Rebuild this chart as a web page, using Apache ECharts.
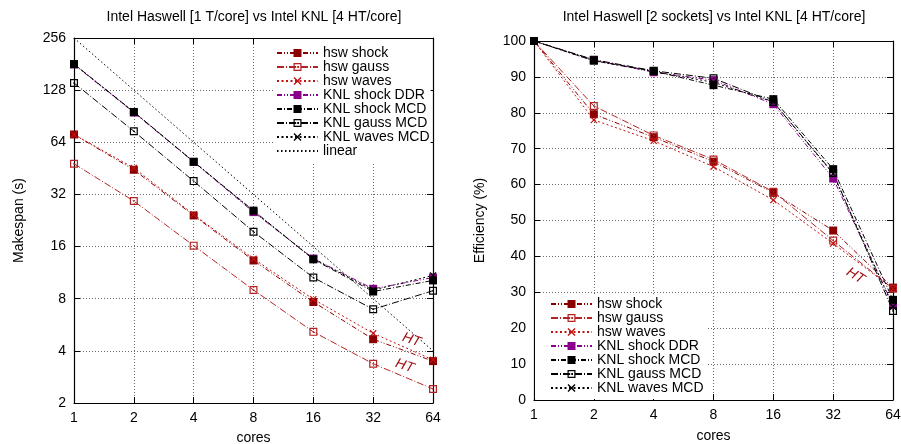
<!DOCTYPE html>
<html><head><meta charset="utf-8">
<script src="https://cdn.jsdelivr.net/npm/echarts@6/dist/echarts.min.js"></script>
<style>html,body{margin:0;padding:0;background:#fff}#c{width:901px;height:444px}</style>
</head><body><div id="c"></div>
<script>
// ---------- data ----------
const cores = [1, 2, 4, 8, 16, 32, 64];
const xTickLabels = ['1', '2', '4', '8', '16', '32', '64'];
const makespanTickLabels = ['2', '4', '8', '16', '32', '64', '128', '256'];
const seriesNames = ['hsw shock', 'hsw gauss', 'hsw waves', 'KNL shock DDR', 'KNL shock MCD', 'KNL gauss MCD', 'KNL waves MCD'];

const makespanHswShock    = [71, 44.4, 24.2, 13.3, 7.66, 4.67, 3.49];
const makespanHswGauss    = [48.1, 29.3, 16.2, 8.98, 5.15, 3.37, 2.41];
const makespanHswWaves    = [71, 45.5, 24.5, 13.6, 7.95, 5.05, 3.55];
const makespanKnlShockDdr = [180, 95.0, 49.3, 25.3, 13.65, 9.13, 10.6];
const makespanKnlShockMcd = [181, 95.8, 49.4, 25.8, 13.5, 8.8, 10.2];
const makespanKnlGaussMcd = [140.8, 74.1, 38.2, 19.5, 10.6, 6.95, 8.9];
const makespanKnlWavesMcd = [181, 95.8, 49.5, 25.6, 13.6, 8.98, 10.9];
const makespanLinear      = [256, 128, 64, 32, 16, 8, 4];

const effHswShock    = [100, 79.6, 73.2, 66.4, 57.7, 47.2, 31.3];
const effHswGauss    = [100, 81.9, 73.7, 67.0, 58.0, 44.4, 31.0];
const effHswWaves    = [100, 78.0, 72.2, 65.0, 55.7, 43.6, 31.0];
const effKnlShockDdr = [100, 94.7, 91.3, 89.1, 82.4, 61.7, 26.5];
const effKnlShockMcd = [100, 94.5, 91.6, 87.7, 83.8, 64.3, 27.9];
const effKnlGaussMcd = [100, 94.8, 91.7, 89.6, 83.0, 63.2, 24.8];
const effKnlWavesMcd = [100, 94.5, 91.5, 88.5, 83.0, 63.0, 26.0];

// ---------- styles ----------
const FONT = 'Liberation Sans, Arial, Helvetica, sans-serif';
const OPEN_SQ = 'path://M0,0L10,0L10,10L0,10Z M1.5,1.5L1.5,8.5L8.5,8.5L8.5,1.5Z M4.1,4.1L5.9,4.1L5.9,5.9L4.1,5.9Z';
const CROSS = 'path://M0,1.2L1.2,0L5,3.8L8.8,0L10,1.2L6.2,5L10,8.8L8.8,10L5,6.2L1.2,10L0,8.8L3.8,5Z';
const styles = {
  'hsw shock':     {color: '#8b0000', dash: [5, 2, 1, 2, 1, 2], symbol: 'rect', size: 8},
  'hsw gauss':     {color: '#b42323', dash: [7, 2, 1, 2], symbol: OPEN_SQ, size: 8},
  'hsw waves':     {color: '#c01010', dash: [2, 2.5], symbol: CROSS, size: 7},
  'KNL shock DDR': {color: '#8b008b', dash: [5, 2, 1, 2, 1, 2], symbol: 'rect', size: 8},
  'KNL shock MCD': {color: '#000000', dash: [5, 2, 1, 2], symbol: 'rect', size: 8},
  'KNL gauss MCD': {color: '#000000', dash: [7, 2, 1, 2], symbol: OPEN_SQ, size: 8},
  'KNL waves MCD': {color: '#000000', dash: [2, 2.5], symbol: CROSS, size: 7},
  'linear':        {color: '#000000', dash: [1.5, 2.5], symbol: 'none', size: 0}
};

function mk(name, values, ax) {
  const s = styles[name];
  return {
    name: name, type: 'line', xAxisIndex: ax, yAxisIndex: ax,
    data: cores.map((c, i) => [c, values[i]]),
    symbol: s.symbol, symbolSize: s.size, showSymbol: s.symbol !== 'none',
    lineStyle: {color: s.color, width: 1, type: s.dash},
    itemStyle: {color: s.color},
    emphasis: {disabled: true}, silent: true
  };
}

const gridLine = {show: true, lineStyle: {color: '#6a6a6a', width: 1, type: [1, 2]}};
const tickIn = {show: true, inside: true, length: 6, lineStyle: {color: '#000'}};
const axLine = {show: true, onZero: false, lineStyle: {color: '#000', width: 1.2}};
const lbl = {color: '#000', fontSize: 14, fontFamily: FONT};
const nameStyle = {color: '#000', fontSize: 14, fontFamily: FONT};

function logX(grid, pos, main) {
  return {
    type: 'log', logBase: 2, min: 1, max: 64, gridIndex: grid, position: pos,
    axisLine: axLine, axisTick: tickIn, splitLine: main ? gridLine : {show: false},
    axisLabel: main ? Object.assign({margin: 8, formatter: v => xTickLabels[cores.indexOf(Math.round(v))] || ''}, lbl) : {show: false},
    name: main ? 'cores' : '', nameLocation: 'middle', nameGap: grid === 0 ? 28 : 29, nameTextStyle: nameStyle
  };
}

const legendBase = {
  orient: 'vertical', itemWidth: 41, itemHeight: 10, itemGap: 0, selectedMode: false,
  backgroundColor: '#fff', textStyle: {color: '#000', fontSize: 14, fontFamily: FONT, lineHeight: 14}
};

const chart = echarts.init(document.getElementById('c'), null, {renderer: 'canvas'});
const option = {
  animation: false,
  backgroundColor: '#fff',
  title: [
    {text: 'Intel Haswell [1 T/core] vs Intel KNL [4 HT/core]', left: 254, top: 10, textAlign: 'center', padding: 0,
     textStyle: {color: '#000', fontSize: 14, fontWeight: 'normal', fontFamily: FONT}},
    {text: 'Intel Haswell [2 sockets] vs Intel KNL [4 HT/core]', left: 714, top: 10, textAlign: 'center', padding: 0,
     textStyle: {color: '#000', fontSize: 14, fontWeight: 'normal', fontFamily: FONT}}
  ],
  grid: [
    {left: 74, top: 38, width: 359, height: 365, containLabel: false, outerBoundsMode: 'none'},
    {left: 534, top: 41, width: 359, height: 359, containLabel: false, outerBoundsMode: 'none'}
  ],
  xAxis: [logX(0, 'bottom', true), logX(0, 'top', false), logX(1, 'bottom', true), logX(1, 'top', false)],
  yAxis: [
    {type: 'log', logBase: 2, min: 2, max: 256, gridIndex: 0, position: 'left',
     axisLine: axLine, axisTick: tickIn, splitLine: gridLine,
     axisLabel: Object.assign({margin: 8, formatter: v => {const t = String(Math.round(v)); return makespanTickLabels.indexOf(t) >= 0 ? t : '';}}, lbl),
     name: 'Makespan (s)', nameLocation: 'middle', nameGap: 48, nameTextStyle: nameStyle},
    {type: 'log', logBase: 2, min: 2, max: 256, gridIndex: 0, position: 'right',
     axisLine: axLine, axisTick: tickIn, splitLine: {show: false}, axisLabel: {show: false}},
    {type: 'value', min: 0, max: 100, interval: 10, gridIndex: 1, position: 'left',
     axisLine: axLine, axisTick: tickIn, splitLine: gridLine,
     axisLabel: Object.assign({margin: 8}, lbl),
     name: 'Efficiency (%)', nameLocation: 'middle', nameGap: 47, nameTextStyle: nameStyle},
    {type: 'value', min: 0, max: 100, interval: 10, gridIndex: 1, position: 'right',
     axisLine: axLine, axisTick: tickIn, splitLine: {show: false}, axisLabel: {show: false}}
  ],
  legend: [
    Object.assign({}, legendBase, {left: 273, top: 39, padding: [7, 1, 4, 3],
      data: seriesNames.concat([{name: 'linear', itemStyle: {opacity: 0, color: 'rgba(0,0,0,0)'}}])}),
    Object.assign({}, legendBase, {left: 535, top: 294, padding: [3, 4, 4, 15], data: seriesNames})
  ],
  series: [
    mk('hsw shock', makespanHswShock, 0),
    mk('hsw gauss', makespanHswGauss, 0),
    mk('hsw waves', makespanHswWaves, 0),
    mk('KNL shock DDR', makespanKnlShockDdr, 0),
    mk('KNL shock MCD', makespanKnlShockMcd, 0),
    mk('KNL gauss MCD', makespanKnlGaussMcd, 0),
    mk('KNL waves MCD', makespanKnlWavesMcd, 0),
    mk('linear', makespanLinear, 0),
    mk('hsw shock', effHswShock, 2),
    mk('hsw gauss', effHswGauss, 2),
    mk('hsw waves', effHswWaves, 2),
    mk('KNL shock DDR', effKnlShockDdr, 2),
    mk('KNL shock MCD', effKnlShockMcd, 2),
    mk('KNL gauss MCD', effKnlGaussMcd, 2),
    mk('KNL waves MCD', effKnlWavesMcd, 2)
  ]
};
chart.setOption(option);

// "HT" annotations, anchored in data coordinates
const htNotes = [
  {grid: 0, at: [49.9, 4.63], rot: -19},
  {grid: 0, at: [46.1, 3.28], rot: -19},
  {grid: 1, at: [41.4, 34.6], rot: -32}
];
chart.setOption({
  graphic: htNotes.map(n => {
    const p = chart.convertToPixel({gridIndex: n.grid}, n.at);
    return {
      type: 'text', x: p[0], y: p[1], rotation: n.rot * Math.PI / 180, silent: true, z: 100,
      style: {text: 'HT', fill: '#a01010', fontSize: 14, fontStyle: 'italic', fontFamily: FONT, align: 'center', verticalAlign: 'middle'}
    };
  })
});
</script>
</body></html>
